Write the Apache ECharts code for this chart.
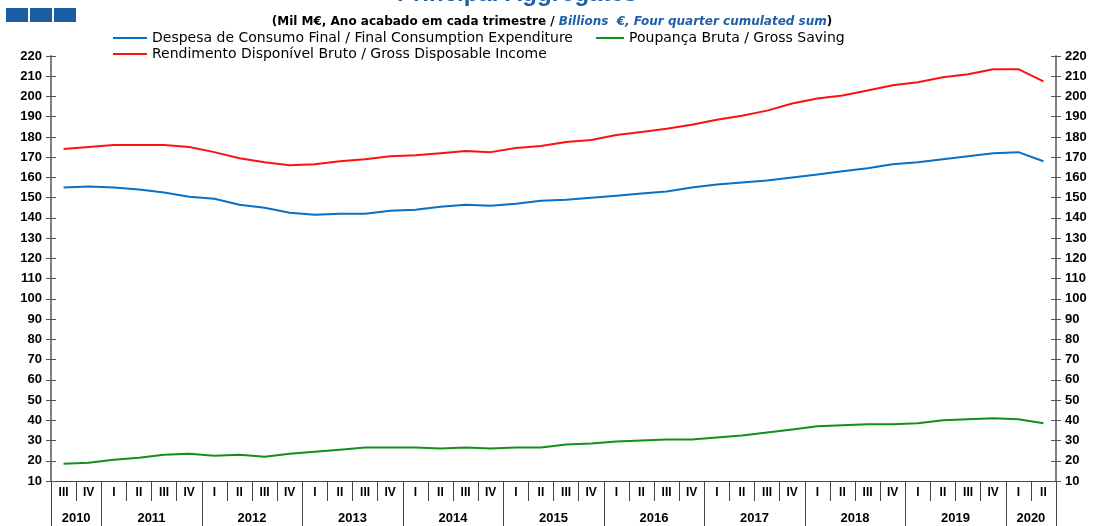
<!DOCTYPE html>
<html>
<head>
<meta charset="utf-8">
<script src="https://cdn.jsdelivr.net/npm/echarts@6/dist/echarts.min.js"></script>
<style>
html,body{margin:0;padding:0;background:#fff;}
#chart{width:1104px;height:526px;}
</style>
</head>
<body>
<div id="chart"></div>
<script>
const quarters = ['III','IV',
  'I','II','III','IV', 'I','II','III','IV', 'I','II','III','IV', 'I','II','III','IV',
  'I','II','III','IV', 'I','II','III','IV', 'I','II','III','IV', 'I','II','III','IV',
  'I','II','III','IV', 'I','II'];
const years = ['2010','2011','2012','2013','2014','2015','2016','2017','2018','2019','2020'];

const consumption = [155,155.5, 155,154,152.5,150.5, 149.5,146.5,145,142.5, 141.5,142,142,143.5,
  144,145.5,146.5,146, 147,148.5,149,150, 151,152,153,155, 156.5,157.5,158.5,160,
  161.5,163,164.5,166.5, 167.5,169,170.5,172, 172.5,168];
const income = [174,175, 176,176,176,175, 172.5,169.5,167.5,166, 166.5,168,169,170.5,
  171,172,173,172.5, 174.5,175.5,177.5,178.5, 181,182.5,184,186, 188.5,190.5,193,196.5,
  199,200.5,203,205.5, 207,209.5,211,213.5, 213.5,207.5];
const saving = [18.5,19, 20.5,21.5,23,23.5, 22.5,23,22,23.5, 24.5,25.5,26.5,26.5,
  26.5,26,26.5,26, 26.5,26.5,28,28.5, 29.5,30,30.5,30.5, 31.5,32.5,34,35.5,
  37,37.5,38,38, 38.5,40,40.5,41, 40.5,38.5];

const names = {
  consumption: 'Despesa de Consumo Final / Final Consumption Expenditure',
  saving: 'Poupança Bruta / Gross Saving',
  income: 'Rendimento Disponível Bruto / Gross Disposable Income'
};

// year boundaries derived from quarter labels
const yearBounds = [0];
quarters.forEach((q, i) => { if (q === 'I' && i > 0) yearBounds.push(i); });
yearBounds.push(quarters.length);
const yearCenters = [];
for (let i = 0; i < yearBounds.length - 1; i++) yearCenters.push((yearBounds[i] + yearBounds[i + 1]) / 2);

const FONT = 'Liberation Sans, Arial, sans-serif';
const WIDE = 'DejaVu Sans, sans-serif';
const axisGray = '#808080';

function yAx(pos, inside, labels) {
  return {
    type: 'value', position: pos, min: 10, max: 220, interval: 10,
    axisLine: { show: !inside, lineStyle: { color: axisGray, width: 2 } },
    axisTick: { show: true, inside: inside, length: 5, lineStyle: { color: '#555', width: 1 } },
    axisLabel: { show: labels, color: '#000', fontFamily: FONT, fontWeight: 'bold', fontSize: 13, margin: 9 },
    splitLine: { show: false }
  };
}

const chart = echarts.init(document.getElementById('chart'));
chart.setOption({
  animation: false,
  backgroundColor: '#fff',
  title: [
    { text: 'Principal Aggregates', left: 392, top: -23,
      textStyle: { color: '#1f5fa8', fontFamily: FONT, fontWeight: 'bold', fontSize: 24 } },
    { text: '{b|(Mil M€, Ano acabado em cada trimestre / }{i|Billions  €, Four quarter cumulated sum}{b|)}',
      left: 'center', top: 11,
      textStyle: { rich: {
        b: { color: '#000', fontFamily: WIDE, fontWeight: 'bold', fontSize: 12 },
        i: { color: '#1f5fa8', fontFamily: WIDE, fontWeight: 'bold', fontStyle: 'italic', fontSize: 12 }
      } } }
  ],
  graphic: [
    { type: 'rect', left: 6, top: 8, shape: { width: 22, height: 14 }, style: { fill: '#1b5ca3' } },
    { type: 'rect', left: 30, top: 8, shape: { width: 22, height: 14 }, style: { fill: '#1b5ca3' } },
    { type: 'rect', left: 54, top: 8, shape: { width: 22, height: 14 }, style: { fill: '#1b5ca3' } }
  ],
  legend: [
    { data: [names.consumption], left: 108, top: 26, icon: 'rect', itemWidth: 34, itemHeight: 2, itemGap: 4,
      textStyle: { color: '#000', fontFamily: WIDE, fontSize: 14 } },
    { data: [names.saving], left: 591, top: 26, icon: 'rect', itemWidth: 28, itemHeight: 2,
      textStyle: { color: '#000', fontFamily: WIDE, fontSize: 14 } },
    { data: [names.income], left: 108, top: 42, icon: 'rect', itemWidth: 34, itemHeight: 2,
      textStyle: { color: '#000', fontFamily: WIDE, fontSize: 14 } }
  ],
  grid: { left: 51, right: 48, top: 56, bottom: 45, containLabel: false },
  xAxis: [
    { type: 'category', data: quarters, boundaryGap: true, position: 'bottom',
      axisLine: { show: true, lineStyle: { color: '#444', width: 1 } },
      axisTick: { show: true, length: 20, interval: 0, lineStyle: { color: '#444', width: 1 } },
      axisLabel: { interval: 0, color: '#000', fontFamily: FONT, fontWeight: 'bold', fontSize: 12, margin: 6 } },
    { type: 'value', min: 0, max: quarters.length, position: 'bottom',
      axisLine: { show: false },
      splitLine: { show: false },
      axisTick: { show: true, length: 46, customValues: yearBounds, lineStyle: { color: '#444', width: 1 } },
      axisLabel: { customValues: yearCenters, color: '#000', fontFamily: FONT, fontWeight: 'bold', fontSize: 13, margin: 31,
        formatter: (v) => years[yearCenters.indexOf(v)] || '' } }
  ],
  yAxis: [ yAx('left', false, true), yAx('left', true, false), yAx('right', false, true), yAx('right', true, false) ],
  series: [
    { name: names.consumption, type: 'line', data: consumption, xAxisIndex: 0, yAxisIndex: 0,
      showSymbol: false, symbol: 'none', lineStyle: { color: '#0a70c4', width: 2 }, itemStyle: { color: '#0a70c4' } },
    { name: names.saving, type: 'line', data: saving, xAxisIndex: 0, yAxisIndex: 0,
      showSymbol: false, symbol: 'none', lineStyle: { color: '#12901a', width: 2 }, itemStyle: { color: '#12901a' } },
    { name: names.income, type: 'line', data: income, xAxisIndex: 0, yAxisIndex: 0,
      showSymbol: false, symbol: 'none', lineStyle: { color: '#ff1010', width: 2 }, itemStyle: { color: '#ff1010' } }
  ]
});
</script>
</body>
</html>
